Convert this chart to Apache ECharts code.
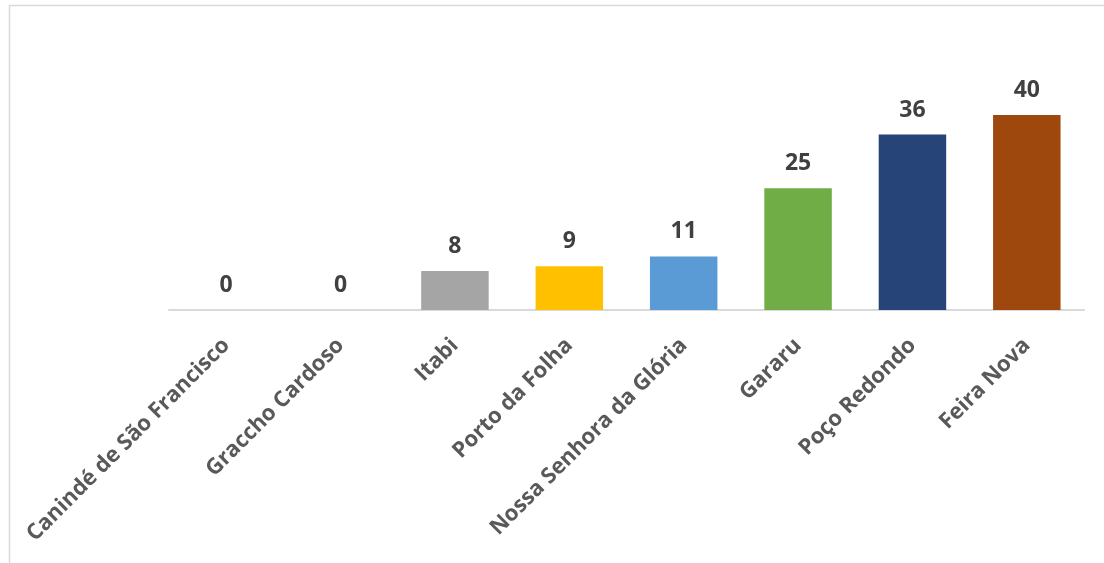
<!DOCTYPE html>
<html><head><meta charset="utf-8">
<script src="https://cdn.jsdelivr.net/npm/echarts@6/dist/echarts.min.js"></script>
<style>html,body{margin:0;padding:0;background:#fff}#c{width:1104px;height:563px}</style>
</head><body><div id="c"></div>
<script>
const categories = ["Canindé de São Francisco","Graccho Cardoso","Itabi","Porto da Folha","Nossa Senhora da Glória","Gararu","Poço Redondo","Feira Nova"];
const values = [0, 0, 8, 9, 11, 25, 36, 40];
const colors = ["#4472C4","#ED7D31","#A5A5A5","#FFC000","#5B9BD5","#70AD47","#264478","#9E480E"];

const chart = echarts.init(document.getElementById('c'), null, {renderer:'canvas'});
chart.setOption({
  animation:false,
  graphic:[{type:'rect',shape:{x:9.5,y:5.5,width:1200,height:700},style:{fill:'none',stroke:'#d9d9d9',lineWidth:1.5},silent:true}],
  grid:{left:169,right:20,top:115,bottom:253},
  xAxis:{type:'category',data:categories,
    axisLine:{lineStyle:{color:'#d9d9d9',width:2}},axisTick:{show:false},
    axisLabel:{rotate:45,interval:0,margin:32,fontFamily:'Open Sans',fontWeight:'bold',fontSize:22,color:'#595959'}},
  yAxis:{type:'value',min:0,max:40,show:false,splitLine:{show:false}},
  series:[{type:'bar',barWidth:'59%',
    data:values.map((v,i)=>({value:v,itemStyle:{color:colors[i]}})),
    label:{show:true,position:'top',distance:13,fontFamily:'Open Sans',fontWeight:'bold',fontSize:23,color:'#404040'}}]
});
</script></body></html>
